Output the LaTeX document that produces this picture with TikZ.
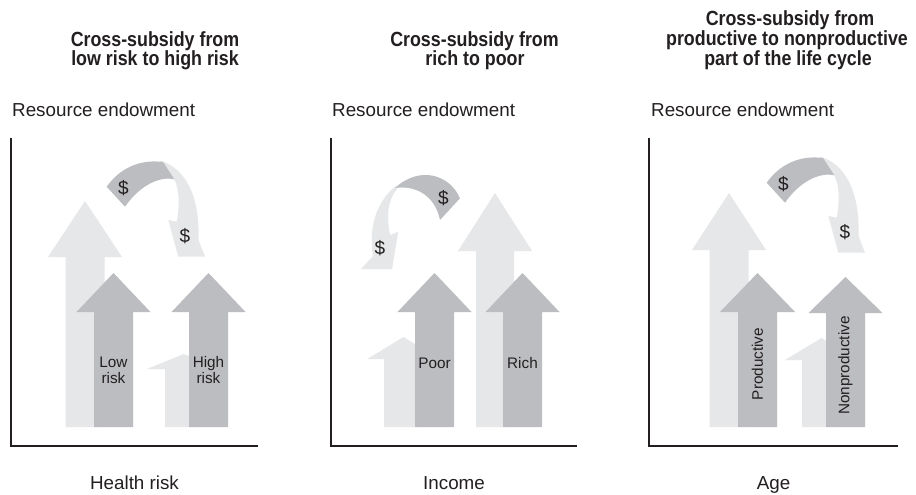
\documentclass[tikz,border=0pt]{standalone}
\usepackage{fontspec}
\setmainfont{Liberation Sans}
\newfontfamily\titlefont[FakeStretch=0.87]{Liberation Sans}
\definecolor{lightg}{HTML}{E6E7E8}
\definecolor{darkg}{HTML}{BCBDC0}
\definecolor{ink}{HTML}{231F20}
\tikzset{
  lt/.style={fill=lightg},
  dk/.style={fill=darkg},
  axisline/.style={draw=ink, line width=2.2pt, line join=miter},
  ttl/.style={font=\titlefont\bfseries\fontsize{20.5}{20}\selectfont, text=ink, anchor=base, inner sep=0pt},
  lbl/.style={font=\fontsize{18.8}{20}\selectfont, text=ink, anchor=base, inner sep=0pt},
  inl/.style={font=\fontsize{15.3}{16}\selectfont, text=ink, align=center, inner sep=0pt},
  dol/.style={font=\fontsize{19}{19}\selectfont, text=ink, inner sep=0pt},
}
% style, cx, tip y, head base y, head half width, shaft half width, bottom y
\newcommand\blockarrow[7]{%
  \fill[#1] ({#2-#6},#7) -- ({#2-#6},#4) -- ({#2-#5},#4) -- (#2,#3) -- ({#2+#5},#4) -- ({#2+#6},#4) -- ({#2+#6},#7) -- cycle;}
\newcommand\curveA{%
  \fill[lt] (160,160.5) .. controls (185,168) and (200,195) .. (198.5,240) -- (205,256.7) -- (178.3,256.7) -- (168.3,220) -- (176.7,221.7) .. controls (180,205) and (179,188) .. (174.3,179.3) -- (160,172) -- cycle;
  \fill[dk] (106.7,186.7) .. controls (120,168) and (140,159) .. (163,162) -- (174.3,179.3) .. controls (160,176) and (140,185) .. (125,206.7) -- cycle;}
\begin{document}
\begin{tikzpicture}[x=1pt,y=-1pt]
\useasboundingbox (0,0) rectangle (916,495);
\fill[white] (0,0) rectangle (916,495);

% ---------- titles ----------
\node[ttl] (t1a) at (155,46.5) {Cross-subsidy from};
\node[ttl] (t1b) at (155,65.5) {low risk to high risk};
\node[ttl] (t2a) at (474.5,46.5) {Cross-subsidy from};
\node[ttl] (t2b) at (475,65.5) {rich to poor};
\node[ttl] (t3a) at (790,25.5) {Cross-subsidy from};
\node[ttl] (t3b) at (787,45.5) {productive to nonproductive};
\node[ttl] (t3c) at (788,65.5) {part of the life cycle};

% ---------- y labels ----------
\node[lbl, anchor=base west] (r1) at (12,117) {Resource endowment};
\node[lbl, anchor=base west] (r2) at (332,117) {Resource endowment};
\node[lbl, anchor=base west] (r3) at (651,117) {Resource endowment};

% ---------- panel 1 ----------
\blockarrow{lt}{85}{201}{257}{37}{19.5}{427}
\blockarrow{dk}{113.5}{273}{312}{37}{19.5}{427}
\blockarrow{lt}{184}{354}{369}{37}{19}{427}
\blockarrow{dk}{208.5}{273}{312}{37}{19.5}{427}
\curveA
\node[dol] (d1a) at (123.3,188.3) {\$};
\node[dol] (d1b) at (185,236) {\$};
\node[inl] (low) at (113.5,370) {Low\\risk};
\node[inl] (high) at (208.5,370) {High\\risk};

% ---------- panel 2 ----------
\blockarrow{lt}{403.5}{337}{359}{36}{19.5}{427}
\blockarrow{dk}{434.5}{273}{312}{37}{19.5}{427}
\blockarrow{lt}{495}{193}{251}{37}{19}{427}
\blockarrow{dk}{522.5}{273}{312}{37}{19.5}{427}
\fill[lt] (396,186) .. controls (378,200) and (368,225) .. (373,256) -- (361,269) -- (392,269) -- (398.3,231.7) -- (390,235) .. controls (386,215) and (388,200) .. (397,189) -- cycle;
\fill[dk] (460,198.3) .. controls (450,175) and (420,165) .. (395,188) .. controls (415,185) and (435,195) .. (440,220) -- cycle;
\node[dol] (d2a) at (443.3,198.3) {\$};
\node[dol] (d2b) at (380,248.3) {\$};
\node[inl] (poor) at (434.5,363) {Poor};
\node[inl] (rich) at (522.5,363) {Rich};

% ---------- panel 3 ----------
\blockarrow{lt}{729}{193}{250}{37}{19.5}{427}
\blockarrow{dk}{757.5}{273}{312}{37.5}{19.5}{427}
\blockarrow{lt}{821.5}{338}{360}{36.5}{19.5}{427}
\blockarrow{dk}{845.5}{277}{313}{37}{19.5}{427}
\begin{scope}[shift={(660,-4)}]
\curveA
\end{scope}
\node[dol] (d3a) at (783.3,184.3) {\$};
\node[dol] (d3b) at (845,232.3) {\$};
\node[inl, rotate=90] (prod) at (757.5,364) {Productive};
\node[inl, rotate=90] (nonprod) at (845.5,365.5) {Nonproductive};

% ---------- axes ----------
\coordinate (a1t) at (11,138); \coordinate (a1o) at (11,446); \coordinate (a1e) at (258,446);
\coordinate (a2t) at (331,138); \coordinate (a2o) at (331,446); \coordinate (a2e) at (577,446);
\coordinate (a3t) at (649,138); \coordinate (a3o) at (649,446); \coordinate (a3e) at (898,446);
\draw[axisline] (a1t) -- (a1o) -- (a1e);
\draw[axisline] (a2t) -- (a2o) -- (a2e);
\draw[axisline] (a3t) -- (a3o) -- (a3e);

% ---------- x labels ----------
\node[lbl] (x1) at (134.5,489) {Health risk};
\node[lbl] (x2) at (454,489) {Income};
\node[lbl] (x3) at (773.5,489) {Age};
\end{tikzpicture}
\end{document}
